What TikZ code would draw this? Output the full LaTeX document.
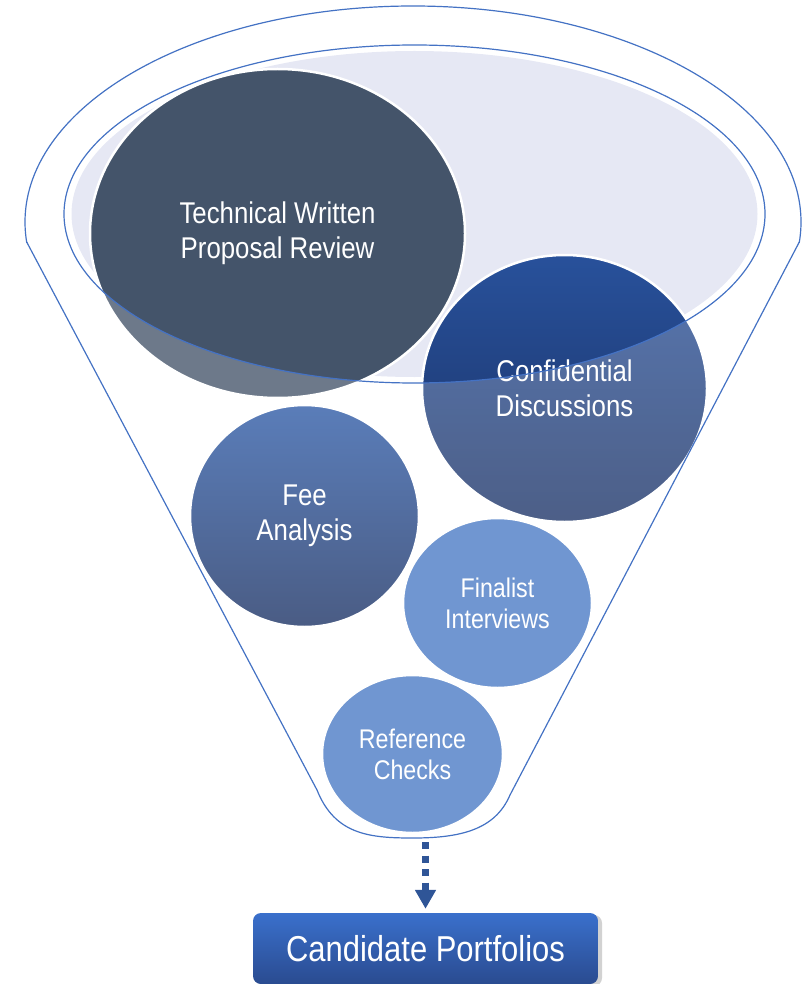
\documentclass[tikz,border=0pt]{standalone}
\usepackage{fontspec}
\setmainfont[FakeStretch=0.86]{Liberation Sans}
\usetikzlibrary{shapes.geometric,arrows.meta,shadows}
\definecolor{funnelblue}{HTML}{4472C4}
\definecolor{mouthfill}{HTML}{E6E8F4}
\definecolor{slate}{HTML}{44546A}
\definecolor{deeptop}{HTML}{28519B}
\definecolor{deepbottom}{HTML}{1B3266}
\definecolor{feetop}{HTML}{5A7DB9}
\definecolor{feebottom}{HTML}{4A5C84}
\definecolor{paleblue}{HTML}{7096D1}
\definecolor{arrowblue}{HTML}{2F5597}
\definecolor{boxtop}{HTML}{3A70CC}
\definecolor{boxbottom}{HTML}{2A4B90}
\begin{document}
\begin{tikzpicture}[x=1pt,y=-1pt,
  stage/.style={ellipse, draw=white, line width=2.5pt, inner sep=0pt, text=white, align=center},
  bigstage/.style={stage, font=\fontsize{30}{35}\selectfont},
  smallstage/.style={stage, fill=paleblue, font=\fontsize{27}{31}\selectfont},
  funnelline/.style={draw=funnelblue, line width=1.2pt},
  portfolio/.style={rounded corners=8pt, top color=boxtop, bottom color=boxbottom, text=white,
    minimum width=345, minimum height=71, font=\fontsize{36}{40}\selectfont,
    drop shadow={shadow xshift=4pt, shadow yshift=-2pt, opacity=0.35}},
  flow/.style={draw=arrowblue, line width=7pt, dash pattern=on 7pt off 6.5pt,
    -{Triangle[width=20pt,length=19pt]}, shorten >=4pt}]
\useasboundingbox (0,0) rectangle (804,984);
% mouth of the funnel
\fill[mouthfill] (414.5,214) ellipse [x radius=343, y radius=163];
\node[bigstage, fill=slate, minimum width=375, minimum height=329] (tid0) at (277.5,233.5) {Technical Written\\Proposal Review};
\node[bigstage, top color=deeptop, bottom color=deepbottom, minimum width=285, minimum height=267] (tid1) at (564.5,388.5) {Confidential\\Discussions};
% body below the mouth is lighter
\fill[white, fill opacity=0.22, even odd rule] (0,0) rectangle (804,984) (414.5,214) ellipse [x radius=350.5, y radius=169];
\draw[funnelline] (414.5,214) ellipse [x radius=350.5, y radius=169];
\node[bigstage, top color=feetop, bottom color=feebottom, minimum width=229, minimum height=222] (tid2) at (304.5,516) {Fee\\Analysis};
\node[smallstage, minimum width=189, minimum height=170] (tid3) at (497.5,603) {Finalist\\Interviews};
\node[smallstage, minimum width=181, minimum height=158] (tid4) at (412.5,754) {Reference\\Checks};
% funnel outline
\begin{scope}
\clip (0,0) rectangle (804,242);
\draw[funnelline] (413,222) ellipse [x radius=388, y radius=216];
\end{scope}
\coordinate (rimL) at (26.7,242);
\coordinate (rimR) at (799.3,242);
\coordinate (neckL) at (317,790);
\coordinate (neckR) at (510,795);
\coordinate (tipB) at (413,838);
\draw[funnelline] (rimL) -- (neckL) .. controls (335,835) and (370,838) .. (tipB)
  .. controls (460,838) and (495,830) .. (neckR) -- (rimR);
% result
\node[portfolio] (tid5) at (425.5,948.5) {Candidate Portfolios};
\coordinate (tid6) at (425.5,842);
\draw[flow] (tid6) -- (tid5.north);
\end{tikzpicture}
\end{document}
